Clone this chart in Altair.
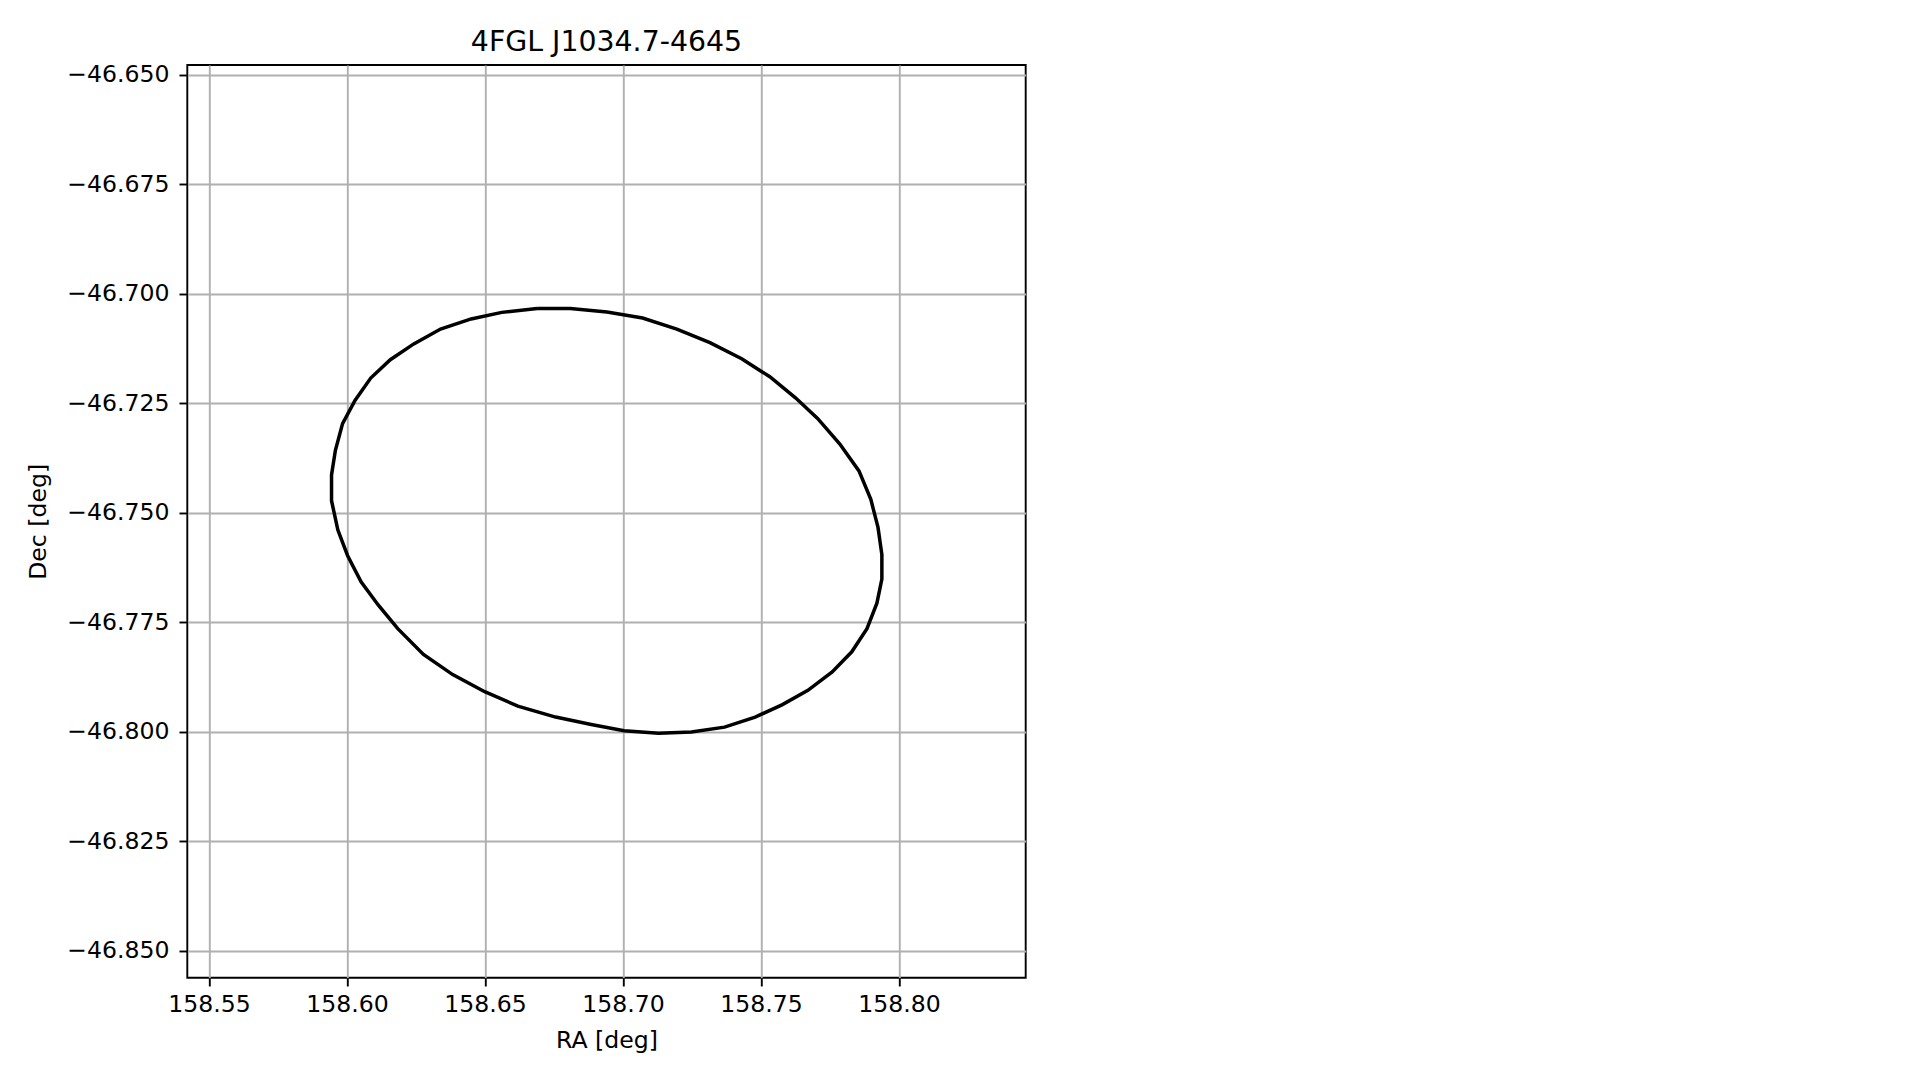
import altair as alt
import pandas as pd

# Error ellipse vertices (RA, Dec in degrees)
ra = [158.6689, 158.6809, 158.6942, 158.7071, 158.7195, 158.7315, 158.7430, 158.7532,
      158.7625, 158.7705, 158.7785, 158.7855, 158.7898, 158.7924, 158.7938, 158.7938,
      158.7920, 158.7884, 158.7829, 158.7758, 158.7670, 158.7576, 158.7479, 158.7368,
      158.7248, 158.7129, 158.7004, 158.6885, 158.6756, 158.6619, 158.6499, 158.6383,
      158.6277, 158.6184, 158.6113, 158.6051, 158.6002, 158.5967, 158.5944, 158.5944,
      158.5958, 158.5984, 158.6029, 158.6086, 158.6157, 158.6242, 158.6339, 158.6450,
      158.6561, 158.6689]
dec = [-46.7033, -46.7033, -46.7041, -46.7055, -46.7080, -46.7111, -46.7148, -46.7189,
       -46.7237, -46.7284, -46.7342, -46.7404, -46.7469, -46.7533, -46.7595, -46.7651,
       -46.7706, -46.7764, -46.7817, -46.7863, -46.7905, -46.7938, -46.7966, -46.7989,
       -46.8000, -46.8003, -46.7997, -46.7983, -46.7966, -46.7941, -46.7908, -46.7869,
       -46.7823, -46.7764, -46.7710, -46.7657, -46.7597, -46.7539, -46.7472, -46.7413,
       -46.7357, -46.7296, -46.7243, -46.7192, -46.7150, -46.7114, -46.7080, -46.7057,
       -46.7042, -46.7033]

x_ticks = [158.55, 158.60, 158.65, 158.70, 158.75, 158.80]
y_ticks = [-46.850, -46.825, -46.800, -46.775, -46.750, -46.725, -46.700, -46.675, -46.650]
x_domain = [158.54214, 158.84591]
y_domain = [-46.85610, -46.64772]

df = pd.DataFrame({"ra": ra, "dec": dec, "i": list(range(len(ra)))})

FONT = "DejaVu Sans"

chart = alt.Chart(df).mark_line(color="black", strokeWidth=3.5).encode(
    x=alt.X("ra:Q",
            scale=alt.Scale(domain=x_domain, nice=False, zero=False),
            axis=alt.Axis(values=x_ticks, format=".2f", title="RA [deg]",
                          labelPadding=7, titlePadding=11.5)),
    y=alt.Y("dec:Q",
            scale=alt.Scale(domain=y_domain, nice=False, zero=False),
            axis=alt.Axis(values=y_ticks, format=".3f", title="Dec [deg]",
                          labelPadding=10, titlePadding=16)),
    order="i:Q",
).properties(
    width=838.4,
    height=912.7,
    autosize=alt.AutoSizeParams(type="none"),
    padding={"left": 179.3, "top": 57, "right": 60, "bottom": 90},
    title=alt.TitleParams("4FGL J1034.7-4645", font=FONT, fontSize=28.4,
                          fontWeight="normal", color="black", anchor="middle",
                          frame="group", offset=5.6),
).configure(
    background="white"
).configure_view(
    stroke="black", strokeWidth=1.9
).configure_axis(
    domain=False,
    grid=True,
    gridColor="#b0b0b0",
    gridWidth=1.9,
    gridOpacity=1,
    tickColor="black",
    tickWidth=1.9,
    tickSize=8.3,
    labelFont=FONT,
    labelFontSize=23.6,
    labelColor="black",
    titleFont=FONT,
    titleFontSize=23.6,
    titleFontWeight="normal",
    titleColor="black",
    labelFlush=False,
    labelOverlap=False,
)

chart.save("out.html", embed_options={"renderer": "svg", "actions": False})
